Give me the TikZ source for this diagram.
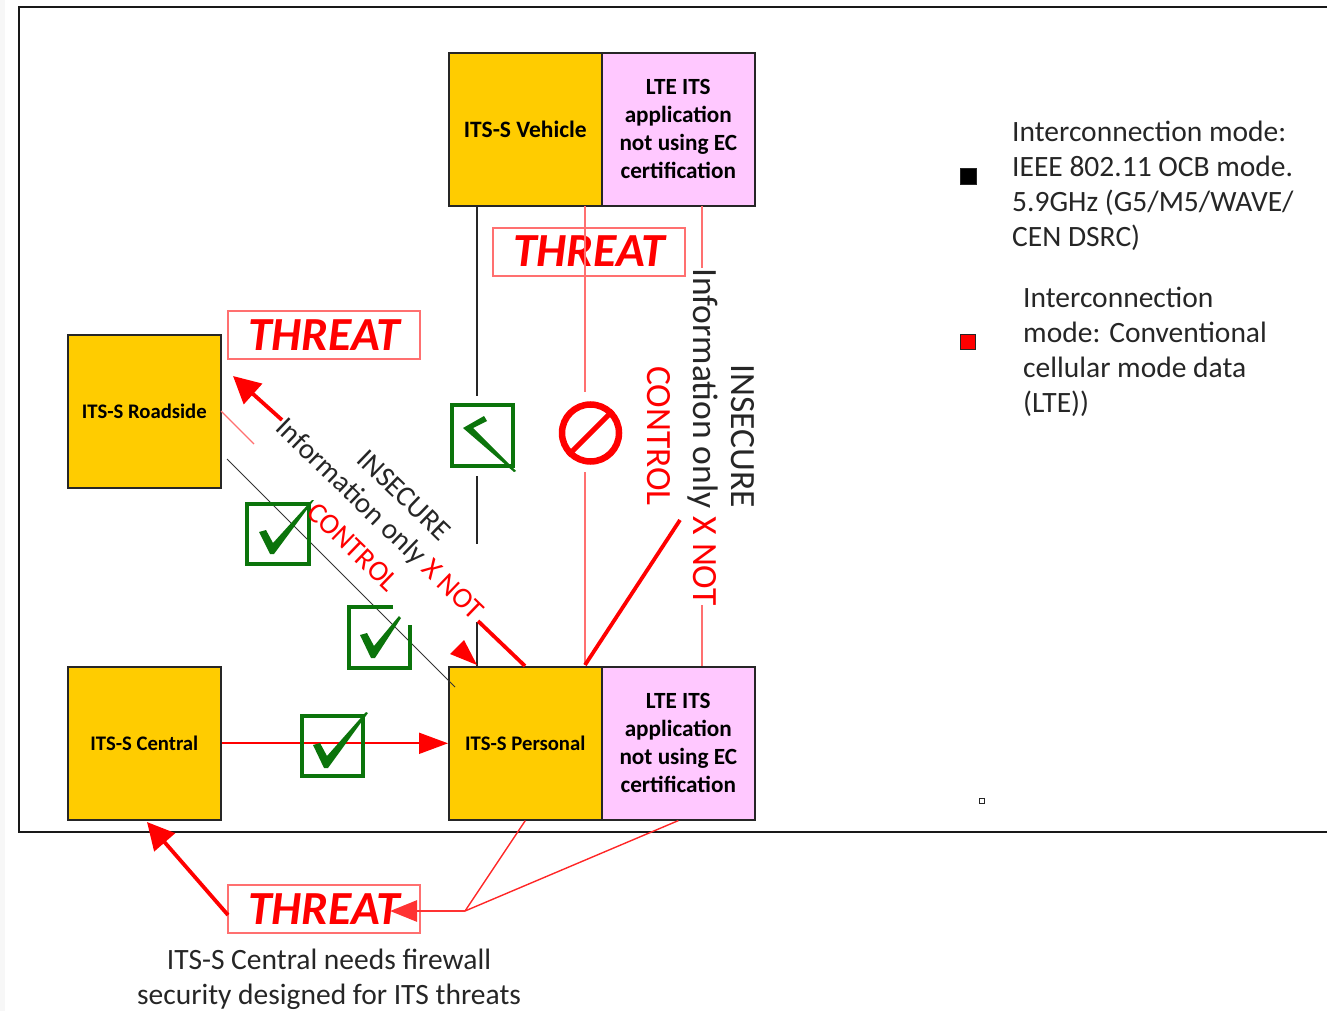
\documentclass[tikz,border=0pt]{standalone}
\usepackage{fontspec}
\setmainfont{Carlito}
\usetikzlibrary{arrows.meta,calc}
\definecolor{its}{HTML}{FFCC00}
\definecolor{lte}{HTML}{FFC8FF}
\definecolor{chk}{HTML}{0B740B}
\definecolor{palered}{HTML}{FF7070}
\tikzset{
 itsbox/.style={draw=black!85,line width=1.6pt,fill=its,minimum width=153pt,minimum height=153pt,inner sep=0pt,align=center,font=\fontsize{20.7}{28}\selectfont\bfseries},
 ltebox/.style={itsbox,fill=lte,font=\fontsize{23.2}{28}\selectfont\bfseries},
 threatbox/.style={draw=palered,line width=2pt,minimum width=192pt,minimum height=48pt,inner sep=0pt,text=red,font=\fontsize{47.5}{48}\selectfont\bfseries\itshape},
 thinred/.style={draw=red!85,line width=1.4pt},
 palewire/.style={draw=palered,line width=2.4pt},
 blackwire/.style={draw=black!85,line width=1.6pt},
 thickred/.style={draw=red,line width=3.8pt},
 redtip/.style={-{Triangle[length=27pt,width=27pt]}},
 chkbox/.style={draw=chk,line width=3.2pt},
 lbl/.style={inner sep=0pt,align=left,text=black!85,font=\fontsize{29.5}{35}\selectfont},
 slab/.style={inner sep=0pt,text=black!85,font=\fontsize{29}{30}\selectfont},
 rlab/.style={slab,text=red},
 vlab/.style={font=\fontsize{35.5}{38}\selectfont}
}
\begin{document}
\begin{tikzpicture}[x=1pt,y=-1pt]
\useasboundingbox (0,0) rectangle (1327,1011);
\fill[black!3] (0,0) rectangle (5,1011);
% frame
\draw[black!90,line width=1.6pt] (1327,7) -- (19,7) -- (19,832) -- (1327,832);
% boxes
\node[itsbox,anchor=north west,font=\fontsize{23.5}{28}\selectfont\bfseries] (veh) at (448,52) {ITS-S Vehicle};
\node[ltebox,anchor=north west] (vehlte) at (601,52) {LTE ITS\\application\\not using EC\\certification};
\node[itsbox,anchor=north west] (road) at (67,334) {ITS-S Roadside};
\node[itsbox,anchor=north west] (cen) at (67,666) {ITS-S Central};
\node[itsbox,anchor=north west] (per) at (448,666) {ITS-S Personal};
\node[ltebox,anchor=north west] (perlte) at (601,666) {LTE ITS\\application\\not using EC\\certification};
% threat boxes
\node[threatbox,anchor=north west] (t1) at (227,310) {THREAT};
\node[threatbox,anchor=north west] (t2) at (492,227) {\raisebox{1pt}{THREAT}};
\node[threatbox,anchor=north west] (t3) at (227,884) {THREAT};
% free-end coordinates
\coordinate (a1) at (477,396);
\coordinate (a2) at (477,476);
\coordinate (a3) at (477,544);
\coordinate (a4) at (477,622);
\coordinate (a5) at (477,666);
\coordinate (a0) at (477,206);
\coordinate (b0) at (585,206);
\coordinate (b1) at (585,392);
\coordinate (b2) at (585,472);
\coordinate (b3) at (585,665);
\coordinate (c0) at (702,206);
\coordinate (c1) at (702,268);
\coordinate (c2) at (702,605);
\coordinate (c3) at (702,666);
% verticals
\draw[blackwire] (a0) -- (a1);
\draw[blackwire] (a2) -- (a3);
\draw[blackwire] (a4) -- (a5);
\draw[palewire] (b0) -- (b1);
\draw[palewire] (b2) -- (b3);
\draw[palewire] (c0) -- (c1);
\draw[palewire] (c2) -- (c3);
\coordinate (d1) at (680,520);
\draw[thickred] (b3) -- (d1);
% diagonals
\coordinate (e1) at (282,420);
\coordinate (e2) at (233,376);
\draw[thickred,redtip] (e1) -- (e2);
\coordinate (f1) at (478,621);
\coordinate (f2) at (525,666);
\draw[thickred] (f1) -- (f2);
\coordinate (g2) at (477,665);
\draw[draw=none,fill=red] (g2) -- (450,654) -- (464,640) -- cycle;
\coordinate (h1) at (221,411);
\coordinate (h2) at (254,444);
\draw[draw=palered,line width=1.4pt] (h1) -- (h2);
\coordinate (i1) at (227,459);
\coordinate (i2) at (455,687);
\draw[draw=black!80,line width=1pt] (i1) -- (i2);
% central to personal
\draw[draw=red,line width=1.8pt,-{Triangle[length=29pt,width=21pt]}] (cen.east) -- (per.west);
% threat bottom
\coordinate (j1) at (465,911);
\coordinate (j2) at (228,915);
\coordinate (j3) at (147,822);
\draw[thickred,redtip] (j2) -- (j3);
\draw[thinred] (per.south) -- (j1);
\draw[thinred] (perlte.south) -- (j1);
\coordinate (j4) at (390,911);
\draw[draw=red!80,line width=2.8pt,-{Triangle[length=27pt,width=21pt]}] (j1) -- (j4);
% check boxes
\draw[chkbox] (452,405) rectangle (513,466);
\fill[chk] (463,428) -- (484,416) -- (487,421) -- (473,428) -- (516,471) -- (514,472) -- cycle;
\draw[chkbox] (247,504) rectangle (309,564);
\fill[chk] (259,532) -- (266,530) -- (273,543) -- (312,500) -- (314,500) -- (274,554) -- (270,554) -- cycle;
\draw[chkbox] (393,607) -- (349,607) -- (349,668) -- (410,668) -- (410,625);
\fill[chk] (360,635) -- (367,633) -- (374,646) -- (399,616) -- (401,618) -- (375,658) -- (371,658) -- cycle;
\draw[chkbox] (302,716) rectangle (363,776);
\fill[chk] (313,745) -- (320,743) -- (327,756) -- (366,712) -- (368,713) -- (328,768) -- (324,768) -- cycle;
% no entry
\node[circle,draw=red,line width=6.5pt,minimum size=57pt,inner sep=0pt] (noentry) at (590.5,433) {};
\draw[draw=red,line width=5pt] (noentry.south west) -- (noentry.north east);
% rotated labels
\node[slab,rotate=-44] (d1t) at (379,520) {Information only \textcolor{red}{X NOT}};
\node[slab,rotate=-44] (d2t) at (404,495) {INSECURE};
\node[rlab,rotate=-44] (d3t) at (353,547) {CONTROL};
\node[slab,rotate=-90,vlab] (v1t) at (703,437) {Information only \textcolor{red}{X NOT}};
\node[slab,rotate=-90,vlab] (v2t) at (743,436) {INSECURE};
\node[rlab,rotate=-90,vlab] (v3t) at (659,436) {CONTROL};
% legend
\node[draw=black!85,fill=black,line width=1pt,minimum size=16pt,inner sep=0pt] (lg1) at (968,177) {};
\node[draw=black!85,fill=red,line width=1.4pt,minimum size=15pt,inner sep=0pt] (lg2) at (968,342) {};
\node[draw=black!85,fill=white,line width=1.4pt,minimum size=5pt,inner sep=0pt] (lg3) at (982,801) {};
\node[lbl,anchor=north west] (l1) at (1012,121) {Interconnection mode:\\IEEE 802.11 OCB mode.\\5.9GHz (G5/M5/WAVE/\\CEN DSRC)};
\node[lbl,anchor=north west] (l2) at (1023,287) {Interconnection\\mode: Conventional\\cellular mode data\\(LTE))};
\node[lbl,align=center,anchor=north] (cap) at (329,949) {ITS-S Central needs firewall\\security designed for ITS threats};
\end{tikzpicture}
\end{document}
